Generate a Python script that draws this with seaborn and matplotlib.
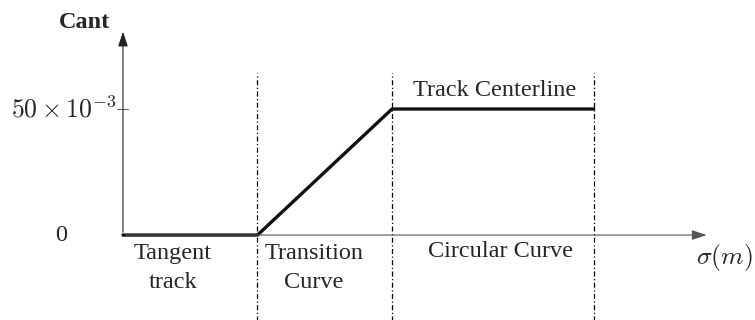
import matplotlib.pyplot as plt
import seaborn as sns

# cant profile break points (sigma in arbitrary length units)
sigma = [0, 1, 2, 3.5]
cant = [0, 0, 0.05, 0.05]
boundaries = [1, 2, 3.5]

region_labels = ['Tangent\ntrack', 'Transition\nCurve', 'Circular Curve']
region_x = [0.37, 1.42, 2.81]
ytick_value = 0.05
ytick_label = r'$50\times10^{-3}$'

sns.set_style('white')
plt.rcParams['font.family'] = ['Liberation Serif', 'DejaVu Serif']
plt.rcParams['mathtext.fontset'] = 'cm'

fs = 17.5

fig = plt.figure(figsize=(7.55, 3.2), dpi=100)
ax = fig.add_axes([0, 0, 1, 1])
ax.set_xlim(-0.9145, 4.699)
ax.set_ylim(-0.0337, 0.09325)
ax.axis('off')

# axes with arrows
ax.annotate('', xy=(4.36, 0), xytext=(0, 0),
            arrowprops=dict(arrowstyle='-|>,head_length=0.9,head_width=0.3', color='#555555', lw=0.8))
ax.annotate('', xy=(0, 0.0818), xytext=(0, 0),
            arrowprops=dict(arrowstyle='-|>,head_length=0.9,head_width=0.3', color='#222222', lw=0.8))

# region boundaries
for b in boundaries:
    ax.plot([b, b], [-0.034, 0.0643], color='k', lw=0.9, linestyle=(0, (4, 2, 1, 2)))

# cant profile
sns.lineplot(x=sigma, y=cant, color='#111111', lw=2.4, ax=ax, solid_joinstyle='miter')

# tick on y axis
ax.plot([-0.045, 0.037], [ytick_value, ytick_value], color='#666666', lw=0.8)
ax.text(-0.045, ytick_value, ytick_label, ha='right', va='center', fontsize=18.5)
ax.text(-0.46, 0.0, '0', ha='center', va='center', fontsize=fs)
ax.text(-0.285, 0.0843, 'Cant', ha='center', va='center', fontsize=fs, fontweight='bold')

for lab, x in zip(region_labels, region_x):
    if '\n' in lab:
        ax.text(x, -0.0131, lab, ha='center', va='center', fontsize=fs, linespacing=1.45)
    else:
        ax.text(x, -0.0067, lab, ha='center', va='center', fontsize=fs)

ax.text(2.76, 0.0575, 'Track Centerline', ha='center', va='center', fontsize=fs)
ax.text(4.47, -0.0091, r'$\sigma(m)$', ha='center', va='center', fontsize=18.5)

fig.savefig('out.png', dpi=100)
